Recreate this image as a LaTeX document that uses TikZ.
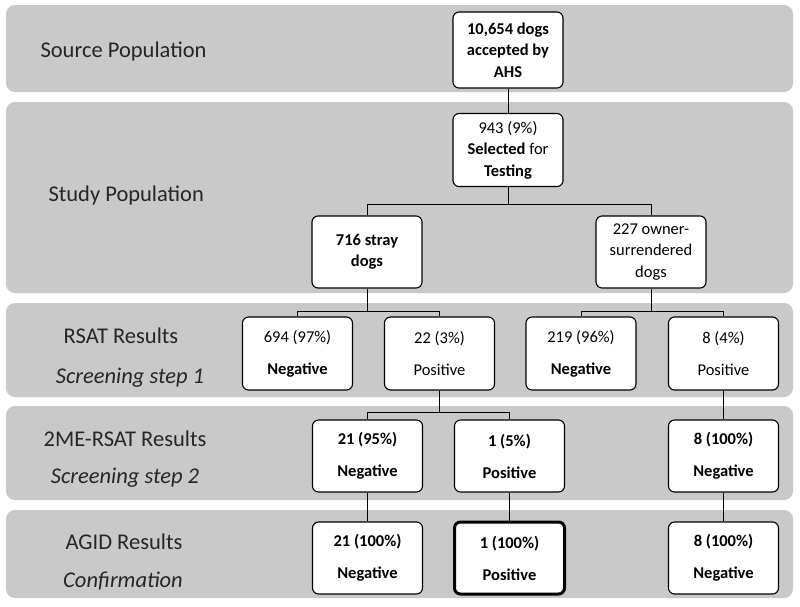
\documentclass[tikz,border=0pt]{standalone}
\usepackage{fontspec}
\setmainfont{Carlito}
\begin{document}
\begin{tikzpicture}[x=1pt,y=-1pt,
  band/.style={fill=black!21,draw=none,rounded corners=9pt},
  bx/.style={draw=black,fill=white,rounded corners=6pt,line width=1.1pt,
    minimum width=110pt,minimum height=73pt,align=center,inner sep=2pt,
    font=\fontsize{16.5}{21.5}\selectfont},
  bx2/.style={bx,font=\fontsize{16.5}{32}\selectfont},
  bx3/.style={bx2,minimum height=72pt,font=\fontsize{16.5}{32}\selectfont\bfseries},
  lab/.style={font=\fontsize{22.5}{26}\selectfont,text=black!85,anchor=base},
  conn/.style={draw=black,line width=0.9pt}]
\useasboundingbox (0,0) rectangle (800,606);
% bands
\path[band] (6,5) rectangle (793,92);
\path[band] (6,102) rectangle (793,293);
\path[band] (6,303) rectangle (793,397);
\path[band] (6,406) rectangle (793,500);
\path[band] (6,510) rectangle (793,598);
% labels
\node[lab,anchor=base west] (l1) at (37,57) {Source Population};
\node[lab,anchor=base west] (l2) at (45,201) {Study Population};
\node[lab] (l3a) at (121,343) {RSAT Results};
\node[lab] (l3b) at (130,383) {\itshape Screening step 1};
\node[lab] (l4a) at (125,446) {2ME-RSAT Results};
\node[lab] (l4b) at (125,483) {\itshape Screening step 2};
\node[lab] (l5a) at (124,549) {AGID Results};
\node[lab] (l5b) at (123,587) {\itshape Confirmation};
% boxes
\node[bx,minimum height=76pt,font=\fontsize{16.5}{21.5}\selectfont\bfseries] (ahs) at (508,50) {10,654 dogs\\accepted by\\AHS};
\node[bx] (sel) at (508,150) {943 (9\%)\\\textbf{Selected} for\\\textbf{Testing}};
\node[bx,minimum height=72pt,font=\fontsize{16.5}{21.5}\selectfont\bfseries] (stray) at (367,252) {716 stray\\dogs};
\node[bx,minimum height=72pt] (own) at (651,252) {227 owner-\\surrendered\\dogs};
\node[bx2] (r1) at (297.5,353.5) {694 (97\%)\\\textbf{Negative}};
\node[bx2] (r2) at (439.5,353.5) {22 (3\%)\\Positive};
\node[bx2] (r3) at (581,353.5) {219 (96\%)\\\textbf{Negative}};
\node[bx2] (r4) at (723.5,353.5) {8 (4\%)\\Positive};
\node[bx3] (m1) at (367.5,456) {21 (95\%)\\Negative};
\node[bx3] (m2) at (509.5,456) {1 (5\%)\\Positive};
\node[bx3] (m3) at (723.5,456) {8 (100\%)\\Negative};
\node[bx3] (a1) at (367.5,558) {21 (100\%)\\Negative};
\node[bx3,line width=3pt] (a2) at (509.5,558) {1 (100\%)\\Positive};
\node[bx3] (a3) at (723.5,558) {8 (100\%)\\Negative};
% connectors
\draw[conn] (ahs.south) -- (sel.north);
\draw[conn] (sel.south) -- ++(0,17) coordinate (j1);
\draw[conn] (stray.north) |- (j1) -| (own.north);
\draw[conn] (stray.south) -- ++(0,23) coordinate (j2);
\draw[conn] (r1.north) |- (j2) -| (r2.north);
\draw[conn] (own.south) -- ++(0,23) coordinate (j3);
\draw[conn] (r3.north) |- (j3) -| (r4.north);
\draw[conn] (r2.south) -- ++(0,22) coordinate (j4);
\draw[conn] (m1.north) |- (j4) -| (m2.north);
\draw[conn] (r4.south) -- (m3.north);
\draw[conn] (m1.south) -- (a1.north);
\draw[conn] (m2.south) -- (a2.north);
\draw[conn] (m3.south) -- (a3.north);
\end{tikzpicture}
\end{document}
